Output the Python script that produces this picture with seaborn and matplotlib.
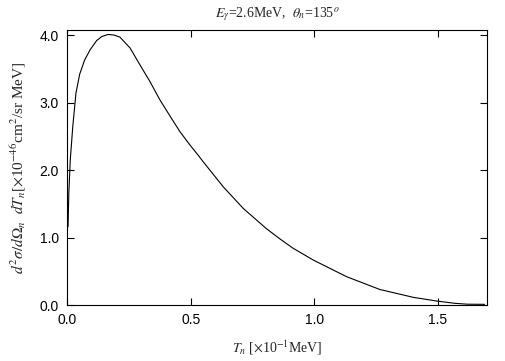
import matplotlib
matplotlib.use("Agg")
import matplotlib.pyplot as plt
import seaborn as sns
import pandas as pd

T_n = [0.003, 0.006, 0.012, 0.022, 0.035, 0.05, 0.07, 0.092, 0.119, 0.14, 0.166, 0.19,
       0.213, 0.254, 0.294, 0.335, 0.375, 0.416, 0.456, 0.497, 0.53, 0.551, 0.632,
       0.713, 0.807, 0.861, 0.915, 0.996, 1.131, 1.266, 1.401, 1.496, 1.57, 1.62, 1.69]
cross = [1.16, 1.65, 2.15, 2.64, 3.14, 3.42, 3.63, 3.78, 3.92, 3.98, 4.01, 4.0,
         3.97, 3.81, 3.56, 3.31, 3.04, 2.80, 2.57, 2.37, 2.22, 2.12, 1.75,
         1.43, 1.13, 0.98, 0.84, 0.667, 0.42, 0.23, 0.114, 0.059, 0.025, 0.012, 0.01]
x_ticks = [0.0, 0.5, 1.0, 1.5]
y_ticks = [0.0, 1.0, 2.0, 3.0, 4.0]

sns.set_style("ticks")
plt.rcParams['font.family'] = ['Liberation Sans', 'DejaVu Sans']
plt.rcParams['mathtext.fontset'] = 'stix'

df = pd.DataFrame({"T": T_n, "y": cross})
fig = plt.figure(figsize=(5.05, 3.61), dpi=100)
ax = fig.add_axes([0.1333, 0.1551, 0.9644 - 0.1333, 0.9177 - 0.1551])
sns.lineplot(data=df, x="T", y="y", ax=ax, color="black", linewidth=0.8, sort=False)

ax.set_xlim(0, 1.7)
ax.set_ylim(0, 4.08)
ax.set_xticks(x_ticks)
ax.set_yticks(y_ticks)
ax.set_xticklabels([f"{v:.1f}" for v in x_ticks])
ax.set_yticklabels([f"{v:.1f}" for v in y_ticks])
ax.tick_params(direction="in", length=5, width=0.8, top=True, right=True,
               labelsize=10, colors="black", pad=6)
for s in ax.spines.values():
    s.set_linewidth(0.8)
    s.set_color("black")
    s.set_visible(True)

serif = ['Liberation Serif', 'DejaVu Serif']
ax.set_xlabel(r"$T_n$ [$\times$10$^{-1}$MeV]", family=serif, fontsize=10, labelpad=8)
ax.set_ylabel(r"$d^2\sigma/d\Omega_n\ \ dT_n$[$\times$10$^{-46}$cm$^2$/sr MeV]",
              family=serif, fontsize=11, labelpad=8)
ax.set_title(r"$E_\gamma$=2.6MeV,  $\theta_n$=135$^o$", family=serif, fontsize=10, pad=9)

fig.savefig("out.png", dpi=100)
